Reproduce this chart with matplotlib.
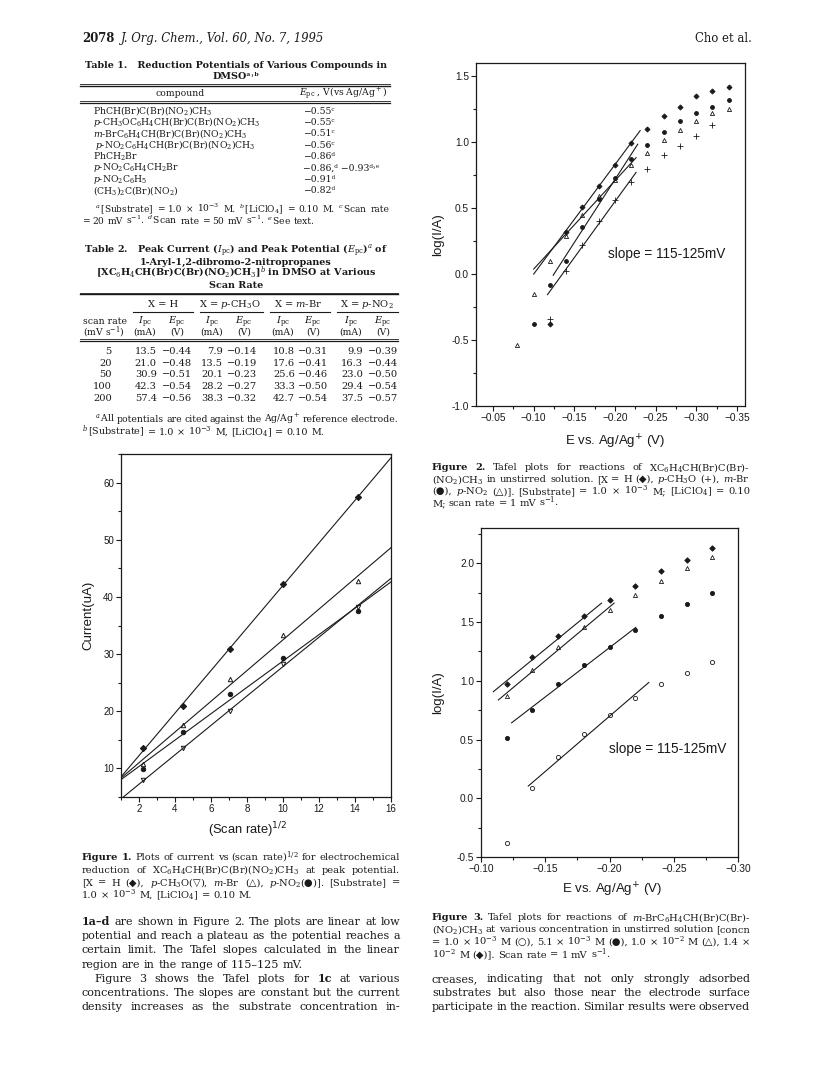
import numpy as np
import matplotlib
matplotlib.use('Agg')
import matplotlib.pyplot as plt
from matplotlib.lines import Line2D
from matplotlib.ticker import MultipleLocator, FuncFormatter, FormatStrFormatter

W, H = 828, 1073
plt.rcParams['mathtext.fontset'] = 'dejavuserif'
SERIF = ['DejaVu Serif', 'DejaVu Sans']
SANS = 'Liberation Sans'
INK = '#1a1a1a'

# ---------------- data (Table 2 / Figure 1) ----------------
scan_rate = [5, 20, 50, 100, 200]
sqrt_rate = [2.24, 4.47, 7.07, 10.0, 14.14]
ipc_H = [13.5, 21.0, 30.9, 42.3, 57.4]
epc_H = [-0.44, -0.48, -0.51, -0.54, -0.56]
ipc_OMe = [7.9, 13.5, 20.1, 28.2, 38.3]
epc_OMe = [-0.14, -0.19, -0.23, -0.27, -0.32]
ipc_Br = [10.8, 17.6, 25.6, 33.3, 42.7]
epc_Br = [-0.31, -0.41, -0.46, -0.50, -0.54]
ipc_NO2 = [9.9, 16.3, 23.0, 29.4, 37.5]
epc_NO2 = [-0.39, -0.44, -0.50, -0.54, -0.57]

# ---------------- Table 1 ----------------
t1_compounds = ["PhCH(Br)C(Br)(NO$_2$)CH$_3$",
                "$p$-CH$_3$OC$_6$H$_4$CH(Br)C(Br)(NO$_2$)CH$_3$",
                "$m$-BrC$_6$H$_4$CH(Br)C(Br)(NO$_2$)CH$_3$",
                "$p$-NO$_2$C$_6$H$_4$CH(Br)C(Br)(NO$_2$)CH$_3$",
                "PhCH$_2$Br",
                "$p$-NO$_2$C$_6$H$_4$CH$_2$Br",
                "$p$-NO$_2$C$_6$H$_5$",
                "(CH$_3$)$_2$C(Br)(NO$_2$)"]
t1_epc = ["\u22120.55\u1d9c", "\u22120.55\u1d9c", "\u22120.51\u1d9c", "\u22120.56\u1d9c",
          "\u22120.86\u1d48", "\u22120.86,\u1d48 \u22120.93\u1d48\u02d2\u1d49", "\u22120.91\u1d48", "\u22120.82\u1d48"]

# ---------------- Figure 2 (Tafel, various X) ----------------
f2_E_H = [-0.12, -0.14, -0.16, -0.18, -0.20, -0.22, -0.24, -0.26, -0.28, -0.30, -0.32, -0.34]
f2_H = [-0.38, 0.32, 0.51, 0.67, 0.83, 0.99, 1.10, 1.20, 1.27, 1.35, 1.39, 1.42]
f2_E_Br = [-0.10, -0.12, -0.14, -0.16, -0.18, -0.20, -0.22, -0.24, -0.26, -0.28, -0.30, -0.32, -0.34]
f2_Br = [-0.38, -0.08, 0.10, 0.36, 0.57, 0.73, 0.87, 0.98, 1.08, 1.16, 1.22, 1.27, 1.32]
f2_E_NO2 = [-0.08, -0.10, -0.12, -0.14, -0.16, -0.18, -0.20, -0.22, -0.24, -0.26, -0.28, -0.30, -0.32, -0.34]
f2_NO2 = [-0.54, -0.15, 0.10, 0.29, 0.45, 0.59, 0.71, 0.83, 0.92, 1.02, 1.09, 1.16, 1.22, 1.25]
f2_E_OMe = [-0.12, -0.14, -0.16, -0.18, -0.20, -0.22, -0.24, -0.26, -0.28, -0.30, -0.32]
f2_OMe = [-0.34, 0.02, 0.22, 0.40, 0.56, 0.70, 0.80, 0.90, 0.97, 1.05, 1.13]
f2_fit_E = [-0.14, -0.16, -0.18, -0.20, -0.22]
f2_span = {'H': (-0.10, -0.231), 'NO2': (-0.10, -0.226), 'Br': (-0.124, -0.228), 'OMe': (-0.117, -0.226)}

# ---------------- Figure 3 (Tafel, concentrations of 1c) ----------------
f3_E = [-0.12, -0.14, -0.16, -0.18, -0.20, -0.22, -0.24, -0.26, -0.28]
f3_c14 = [0.97, 1.20, 1.38, 1.55, 1.69, 1.81, 1.93, 2.03, 2.13]
f3_c10 = [0.87, 1.09, 1.29, 1.46, 1.60, 1.73, 1.85, 1.96, 2.05]
f3_c51 = [0.51, 0.75, 0.97, 1.13, 1.29, 1.43, 1.55, 1.65, 1.75]
f3_c10m = [-0.38, 0.09, 0.35, 0.55, 0.71, 0.85, 0.97, 1.07, 1.16]
f3_fit = {'c14': (-0.12, -0.20), 'c10': (-0.12, -0.20), 'c51': (-0.14, -0.22), 'c10m': (-0.14, -0.22)}
f3_span = {'c14': (-0.1096, -0.1938), 'c10': (-0.1135, -0.2036), 'c51': (-0.1238, -0.2205), 'c10m': (-0.1368, -0.2306)}

fig = plt.figure(figsize=(W / 100, H / 100), dpi=100, facecolor='white')
rend = fig.canvas.get_renderer()


def txt(x, y, s, size, ha='left', weight='normal', style='normal', family=None):
    return fig.text(x / W, 1 - y / H, s, fontsize=size, ha=ha, va='baseline',
                    weight=weight, style=style, family=family or SERIF, color=INK)


def para(x, y, s, size, right=None, weight='normal'):
    # words starting with ** are bold; justified when right edge given
    arts = []
    for w in s.split():
        wt = weight
        if w.startswith('**'):
            w, wt = w[2:], 'bold'
        arts.append(txt(x, y, w, size, weight=wt))
    widths = [a.get_window_extent(rend).width for a in arts]
    gap = 0.32 * size * 100 / 72
    if right is not None and len(arts) > 1:
        gap = (right - x - sum(widths)) / (len(arts) - 1)
        # shrink the line a little if it would not fit
        while gap < 0.2 * size * 100 / 72 and size > 4:
            size -= 0.1
            for a in arts:
                a.set_fontsize(size)
            widths = [a.get_window_extent(rend).width for a in arts]
            gap = (right - x - sum(widths)) / (len(arts) - 1)
    cx = x
    for a, w in zip(arts, widths):
        a.set_x(cx / W)
        cx += w + gap


def hline(x0, x1, y, lw=0.7):
    fig.add_artist(Line2D([x0 / W, x1 / W], [1 - y / H, 1 - y / H], lw=lw, color=INK,
                          transform=fig.transFigure))


# ---------------- header ----------------
txt(82, 42, "2078", 8.4, weight='bold')
txt(121, 42, "J. Org. Chem., Vol. 60, No. 7, 1995", 8.4, style='italic')
txt(752, 42, "Cho et al.", 8.4, ha='right')

# ---------------- Table 1 ----------------
TS = 6.7
FS = 6.9
txt(236, 68.5, "Table 1.   Reduction Potentials of Various Compounds in", 6.9, ha='center', weight='bold')
txt(236, 79, "DMSO\u1d43\u02d2\u1d47", 6.9, ha='center', weight='bold')
hline(80, 390, 83.5, 0.6)
hline(80, 390, 85.5, 1.0)
txt(180, 96.5, "compound", TS, ha='center')
txt(343, 96.5, "$E_{\\rm pc}$ , V(vs Ag/Ag$^+$)", TS, ha='center')
hline(80, 390, 101.2, 0.6)
hline(80, 390, 103.0, 0.9)
for i, (c, e) in enumerate(zip(t1_compounds, t1_epc)):
    y = 113.5 + i * 11.4
    txt(95 if i == 3 else 93, y, c, TS)
    txt(303, y, e, TS)
para(95, 212, "$^a\\,$[Substrate] = 1.0 \u00d7 10$^{-3}$ M. $^b\\,$[LiClO$_4$] = 0.10 M. $^c\\,$Scan rate", 6.5, right=390)
para(82, 224.5, "= 20 mV s$^{-1}$. $^d\\,$Scan rate = 50 mV s$^{-1}$. $^e\\,$See text.", 6.6)

# ---------------- Table 2 ----------------
txt(236, 253, "Table 2.   Peak Current ($I_{\\rm pc}$) and Peak Potential ($E_{\\rm pc}$)$^a$ of", 6.9, ha='center', weight='bold')
txt(236, 264.5, "1-Aryl-1,2-dibromo-2-nitropropanes", 6.9, ha='center', weight='bold')
txt(236, 276, "[XC$_6$H$_4$CH(Br)C(Br)(NO$_2$)CH$_3$]$^b$ in DMSO at Various", 6.9, ha='center', weight='bold')
txt(236, 288, "Scan Rate", 6.9, ha='center', weight='bold')
hline(80, 398, 292.5, 0.6)
hline(80, 398, 294.5, 1.0)
groups = ["X = H", "X = $p$-CH$_3$O", "X = $m$-Br", "X = $p$-NO$_2$"]
group_cx = [163, 230, 298, 367]
group_span = [(133, 193), (200, 263), (270, 330), (337, 398)]
ipc_cx = [145, 212, 283, 351]
epc_cx = [177, 244, 313, 383]
for g, cx, (a, b) in zip(groups, group_cx, group_span):
    txt(cx, 307, g, TS + 0.4, ha='center')
    hline(a, b, 311.7, 0.8)
txt(83, 324, "scan rate", TS)
txt(83, 335, "(mV s$^{-1}$)", TS)
for cx in ipc_cx:
    txt(cx, 324, "$I_{\\rm pc}$", TS + 0.4, ha='center')
    txt(cx, 335, "(mA)", TS, ha='center')
for cx in epc_cx:
    txt(cx, 324, "$E_{\\rm pc}$", TS + 0.4, ha='center')
    txt(cx, 335, "(V)", TS, ha='center')
hline(80, 398, 339.3, 0.6)
hline(80, 398, 341.0, 0.9)
ipc_cols = [ipc_H, ipc_OMe, ipc_Br, ipc_NO2]
epc_cols = [epc_H, epc_OMe, epc_Br, epc_NO2]
ipc_right = [156.7, 223.3, 295, 363.3]
epc_right = [191.7, 256.7, 328.3, 398.3]
for i, sr in enumerate(scan_rate):
    y = 354 + i * 11.7
    txt(111.7, y, str(sr), TS + 0.4, ha='right')
    for col, xr in zip(ipc_cols, ipc_right):
        txt(xr, y, "%.1f" % col[i], TS + 0.4, ha='right')
    for col, xr in zip(epc_cols, epc_right):
        txt(xr, y, "\u2212%.2f" % abs(col[i]), TS + 0.4, ha='right')
para(95, 421.5, "$^a\\,$All potentials are cited against the Ag/Ag$^+$ reference electrode.", FS, right=398)
para(82, 435, "$^b\\,$[Substrate] = 1.0 \u00d7 10$^{-3}$ M, [LiClO$_4$] = 0.10 M.", FS)


# ---------------- axes helpers ----------------
def make_axes(l, t, r, b):
    ax = fig.add_axes([l / W, 1 - b / H, (r - l) / W, (b - t) / H])
    for s in ax.spines.values():
        s.set_linewidth(0.9)
        s.set_color(INK)
    ax.tick_params(which='both', direction='out', top=False, right=False, color=INK,
                   labelsize=7, labelcolor=INK, width=0.8, pad=1.5)
    ax.tick_params(which='major', length=3.5)
    ax.tick_params(which='minor', length=2)
    return ax


def neg_fmt(v, pos):
    return "\u2212%.2f" % abs(v)


def sans_ticks(ax):
    for lab in ax.get_xticklabels() + ax.get_yticklabels():
        lab.set_family(SANS)


# ---------------- Figure 1 ----------------
ax1 = make_axes(121, 454, 391, 797)
ax1.set_xlim(1, 16)
ax1.set_ylim(5, 65)
ax1.xaxis.set_major_locator(MultipleLocator(2))
ax1.xaxis.set_minor_locator(MultipleLocator(1))
ax1.yaxis.set_major_locator(MultipleLocator(10))
ax1.yaxis.set_minor_locator(MultipleLocator(5))
ax1.set_yticks([10, 20, 30, 40, 50, 60])
xx = np.array(ax1.get_xlim())
for ys, mk, fc in [(ipc_H, 'D', INK), (ipc_Br, '^', 'none'), (ipc_NO2, 'o', INK), (ipc_OMe, 'v', 'none')]:
    k, c0 = np.polyfit(sqrt_rate, ys, 1)
    ax1.plot(xx, k * xx + c0, color=INK, lw=0.8)
    ax1.plot(sqrt_rate, ys, ls='none', marker=mk, ms=3.2, mfc=fc, mec=INK, mew=0.7)
ax1.set_xlabel("(Scan rate)$^{\\mathsf{1/2}}$", family=SANS, fontsize=9.3, color=INK, va='center')
ax1.set_ylabel("Current(uA)", family=SANS, fontsize=9.5, color=INK, va='center')
ax1.xaxis.set_label_coords(0.47, -0.096)
ax1.yaxis.set_label_coords(-0.122, 0.53)
sans_ticks(ax1)

# ---------------- Figure 2 ----------------
ax2 = make_axes(476, 63, 745, 406)
ax2.set_xlim(-0.029, -0.36)
ax2.set_ylim(-1.0, 1.6)
ax2.xaxis.set_major_locator(MultipleLocator(0.05))
ax2.xaxis.set_minor_locator(MultipleLocator(0.025))
ax2.yaxis.set_major_locator(MultipleLocator(0.5))
ax2.yaxis.set_minor_locator(MultipleLocator(0.25))
ax2.xaxis.set_major_formatter(FuncFormatter(neg_fmt))
ax2.yaxis.set_major_formatter(FormatStrFormatter('%.1f'))
ax2.tick_params(labelsize=7.3)
f2_series = [('H', f2_E_H, f2_H, 'D', INK, 2.6), ('Br', f2_E_Br, f2_Br, 'o', INK, 2.8),
             ('NO2', f2_E_NO2, f2_NO2, '^', 'none', 3.0), ('OMe', f2_E_OMe, f2_OMe, '+', INK, 5.0)]
for key, ex, ys, mk, fc, ms in f2_series:
    sel = [i for i, e in enumerate(ex) if e in f2_fit_E]
    k, c0 = np.polyfit([ex[i] for i in sel], [ys[i] for i in sel], 1)
    xs = np.array(f2_span[key])
    ax2.plot(xs, k * xs + c0, color=INK, lw=0.8)
    ax2.plot(ex, ys, ls='none', marker=mk, ms=ms, mfc=fc, mec=INK, mew=0.6)
ax2.text(-0.264, 0.15, "slope = 115-125mV", family=SANS, fontsize=9.8, ha='center', va='center', color=INK)
ax2.set_xlabel("E vs. Ag/Ag$^{\\mathsf{+}}$ (V)", family=SANS, fontsize=9.5, color=INK, va='center')
ax2.set_ylabel("log(I/A)", family=SANS, fontsize=9.5, color=INK, va='center')
ax2.xaxis.set_label_coords(0.517, -0.104)
ax2.yaxis.set_label_coords(-0.14, 0.5)
sans_ticks(ax2)

# ---------------- Figure 3 ----------------
ax3 = make_axes(481, 528, 738, 857)
ax3.set_xlim(-0.10, -0.30)
ax3.set_ylim(-0.5, 2.3)
ax3.xaxis.set_major_locator(MultipleLocator(0.05))
ax3.xaxis.set_minor_locator(MultipleLocator(0.025))
ax3.yaxis.set_major_locator(MultipleLocator(0.5))
ax3.yaxis.set_minor_locator(MultipleLocator(0.25))
ax3.xaxis.set_major_formatter(FuncFormatter(neg_fmt))
ax3.yaxis.set_major_formatter(FormatStrFormatter('%.1f'))
ax3.tick_params(labelsize=7.3)
f3_series = [('c14', f3_c14, 'D', INK, 2.8), ('c10', f3_c10, '^', 'none', 3.0),
             ('c51', f3_c51, 'o', INK, 3.0), ('c10m', f3_c10m, 'o', 'none', 3.0)]
for key, ys, mk, fc, ms in f3_series:
    lo, hi = f3_fit[key]
    sel = [i for i, e in enumerate(f3_E) if hi - 1e-9 <= e <= lo + 1e-9]
    k, c0 = np.polyfit([f3_E[i] for i in sel], [ys[i] for i in sel], 1)
    xs = np.array(f3_span[key])
    ax3.plot(xs, k * xs + c0, color=INK, lw=0.8)
    ax3.plot(f3_E, ys, ls='none', marker=mk, ms=ms, mfc=fc, mec=INK, mew=0.6)
ax3.text(-0.2456, 0.42, "slope = 115-125mV", family=SANS, fontsize=9.8, ha='center', va='center', color=INK)
ax3.set_xlabel("E vs. Ag/Ag$^{\\mathsf{+}}$ (V)", family=SANS, fontsize=9.5, color=INK, va='center')
ax3.set_ylabel("log(I/A)", family=SANS, fontsize=9.5, color=INK, va='center')
ax3.xaxis.set_label_coords(0.508, -0.1)
ax3.yaxis.set_label_coords(-0.166, 0.5)
sans_ticks(ax3)

# ---------------- captions and running text ----------------
CS = 7.1
BS = 8.0
para(82, 860, "**Figure **1. Plots of current vs (scan rate)$^{1/2}$ for electrochemical", CS, right=400)
para(82, 873, "reduction of XC$_6$H$_4$CH(Br)C(Br)(NO$_2$)CH$_3$ at peak potential.", CS, right=400)
para(82, 885.5, "[X = H (\u25c6), $p$-CH$_3$O(\u25bd), $m$-Br (\u25b3), $p$-NO$_2$(\u25cf)]. [Substrate] =", CS, right=400)
para(82, 898, "1.0 \u00d7 10$^{-3}$ M, [LiClO$_4$] = 0.10 M.", CS)

body_left = ["**1a\u2013d are shown in Figure 2. The plots are linear at low",
             "potential and reach a plateau as the potential reaches a",
             "certain limit. The Tafel slopes calculated in the linear",
             "region are in the range of 115\u2013125 mV.",
             "Figure 3 shows the Tafel plots for **1c at various",
             "concentrations. The slopes are constant but the current",
             "density increases as the substrate concentration in-"]
for i, s in enumerate(body_left):
    y = 925 + i * 14.2
    if i == 3:
        para(82, y, s, BS)
    elif i == 4:
        para(94, y, s, BS, right=400)
    else:
        para(82, y, s, BS, right=400)

para(432, 470, "**Figure **2. Tafel plots for reactions of XC$_6$H$_4$CH(Br)C(Br)-", CS, right=750)
para(432, 482, "(NO$_2$)CH$_3$ in unstirred solution. [X = H (\u25c6), $p$-CH$_3$O (+), $m$-Br", CS, right=750)
para(432, 494, "(\u25cf), $p$-NO$_2$ (\u25b3)]. [Substrate] = 1.0 \u00d7 10$^{-3}$ M; [LiClO$_4$] = 0.10", CS, right=750)
para(432, 506, "M; scan rate = 1 mV s$^{-1}$.", CS)

para(432, 920, "**Figure **3. Tafel plots for reactions of $m$-BrC$_6$H$_4$CH(Br)C(Br)-", CS, right=750)
para(432, 932.5, "(NO$_2$)CH$_3$ at various concentration in unstirred solution [concn", CS, right=750)
para(432, 945, "= 1.0 \u00d7 10$^{-3}$ M (\u25cb), 5.1 \u00d7 10$^{-3}$ M (\u25cf), 1.0 \u00d7 10$^{-2}$ M (\u25b3), 1.4 \u00d7", CS, right=750)
para(432, 957.5, "10$^{-2}$ M (\u25c6)]. Scan rate = 1 mV s$^{-1}$.", CS)

body_right = ["creases, indicating that not only strongly adsorbed",
              "substrates but also those near the electrode surface",
              "participate in the reaction. Similar results were observed"]
for i, s in enumerate(body_right):
    para(432, 982 + i * 14.2, s, BS, right=750)

fig.savefig('out.png', dpi=100, facecolor='white')
